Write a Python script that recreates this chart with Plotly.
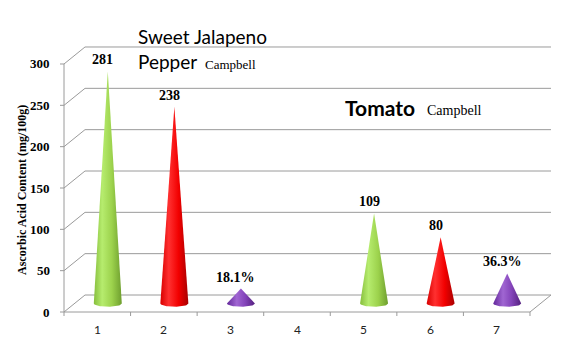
import numpy as np
import plotly.graph_objects as go

# ---- data ----
categories = [1, 2, 3, 4, 5, 6, 7]
values = [281, 238, 18.1, None, 109, 80, 36.3]
value_labels = ["281", "238", "18.1%", "", "109", "80", "36.3%"]
cone_kind = ["green", "red", "purple", None, "green", "red", "purple"]
y_ticks = [0, 50, 100, 150, 200, 250, 300]
y_title = "Ascorbic Acid Content (mg/100g)"

# ---- canvas / scale setup ----
W, H = 561, 339
PX_PER_CAT = 66.57          # pixels per category
PX_PER_UNIT = 0.8267        # pixels per mg/100g
X0_PX, Y0_PX = 64, 312      # pixel of (0.5, 0)

x_range = [0.5 - X0_PX / PX_PER_CAT, 0.5 + (W - X0_PX) / PX_PER_CAT]
y_range = [-(H - Y0_PX) / PX_PER_UNIT, Y0_PX / PX_PER_UNIT]

def px_x(p):  # pixel length -> x data length
    return p / PX_PER_CAT

def px_y(p):  # pixel length -> y data length
    return p / PX_PER_UNIT

DX, DY = px_x(21), px_y(17)       # depth of the 3-D box
X_LO, X_HI = 0.5, 7.5
Y_TOP = 300
GRID = "#9a9a9a"

palettes = {
    "green": [[0, "#86BE3C"], [0.3, "#B6EC6E"], [0.65, "#9CD24C"], [1, "#6E9E2E"]],
    "red": [[0, "#D80000"], [0.3, "#FF3030"], [0.65, "#F20000"], [1, "#A80000"]],
    "purple": [[0, "#62279A"], [0.35, "#A066D2"], [0.65, "#8444BA"], [1, "#54207E"]],
}

fig = go.Figure()

def seg(xs, ys, color=GRID, width=1):
    fig.add_trace(go.Scatter(x=xs, y=ys, mode="lines",
                             line=dict(color=color, width=width),
                             hoverinfo="skip", showlegend=False))

# back wall gridlines and left wall diagonals
for v in y_ticks:
    seg([X_LO + DX, X_HI + DX], [v + DY, v + DY])
    seg([X_LO, X_LO + DX], [v, v + DY])

# floor outline
seg([X_LO, X_HI], [0, 0])
seg([X_HI, X_HI + DX], [0, DY])
# left value axis and its ticks
seg([X_LO, X_LO], [0, Y_TOP])
for v in y_ticks:
    seg([X_LO - px_x(4), X_LO], [v, v])
# category boundary ticks
for b in np.arange(X_LO, X_HI + 0.01, 1.0):
    seg([b, b], [0, -px_y(4)])

# cones
R = px_x(14)
RY = px_y(3.2)
theta = np.linspace(0, np.pi, 30)
for c, v, kind in zip(categories, values, cone_kind):
    if v is None:
        continue
    xc = c + DX / 2
    yb = DY / 2
    xs = [xc - R] + list(xc - R * np.cos(theta)) + [xc + R, xc, xc - R]
    ys = [yb] + list(yb - RY * np.sin(theta)) + [yb, yb + v, yb]
    fig.add_trace(go.Scatter(
        x=xs, y=ys, mode="lines", fill="toself",
        line=dict(width=0, color="rgba(0,0,0,0)"),
        fillgradient=dict(type="horizontal", colorscale=palettes[kind]),
        hoverinfo="skip", showlegend=False))

annotations = []
serif = "Liberation Serif"
sans = "Lato"

# value labels above the cone tips
for c, v, lab in zip(categories, values, value_labels):
    if v is None:
        continue
    annotations.append(dict(
        x=c + DX / 2, y=v + DY / 2, text=f"<b>{lab}</b>", showarrow=False,
        xanchor="center", yanchor="bottom", xshift=-5, yshift=2,
        font=dict(family=serif, size=14, color="black")))

# y tick labels
for v in y_ticks:
    annotations.append(dict(
        x=X_LO - px_x(12), y=v, text=f"<b>{v}</b>", showarrow=False,
        xanchor="right", yanchor="middle",
        font=dict(family=serif, size=13, color="black")))

# category labels
for c in categories:
    annotations.append(dict(
        x=c, y=-px_y(17), text=str(c), showarrow=False,
        xanchor="center", yanchor="middle",
        font=dict(family=sans, size=12, color="#222")))

# y axis title
annotations.append(dict(
    x=X_LO - px_x(42), y=px_y(122), text=f"<b>{y_title}</b>", showarrow=False,
    textangle=-90, xanchor="center", yanchor="middle",
    font=dict(family=serif, size=12, color="black")))

# group captions
annotations.append(dict(
    x=X_LO + px_x(72), y=px_y(276), text="Sweet Jalapeno", showarrow=False,
    xanchor="left", yanchor="middle",
    font=dict(family=sans, size=19, color="black")))
annotations.append(dict(
    x=X_LO + px_x(72), y=px_y(251), text="Pepper", showarrow=False,
    xanchor="left", yanchor="middle",
    font=dict(family=sans, size=19, color="black")))
annotations.append(dict(
    x=X_LO + px_x(139), y=px_y(248), text="Campbell", showarrow=False,
    xanchor="left", yanchor="middle",
    font=dict(family=serif, size=13, color="black")))
annotations.append(dict(
    x=X_LO + px_x(279), y=px_y(205), text="<b>Tomato</b>", showarrow=False,
    xanchor="left", yanchor="middle",
    font=dict(family=sans, size=21, color="black")))
annotations.append(dict(
    x=X_LO + px_x(361), y=px_y(202), text="Campbell", showarrow=False,
    xanchor="left", yanchor="middle",
    font=dict(family=serif, size=14, color="black")))

fig.update_layout(
    width=W, height=H,
    margin=dict(l=0, r=0, t=0, b=0),
    paper_bgcolor="white", plot_bgcolor="white",
    xaxis=dict(range=x_range, visible=False, fixedrange=True),
    yaxis=dict(range=y_range, visible=False, fixedrange=True),
    annotations=annotations,
    showlegend=False,
)

fig.write_html("out.html")
